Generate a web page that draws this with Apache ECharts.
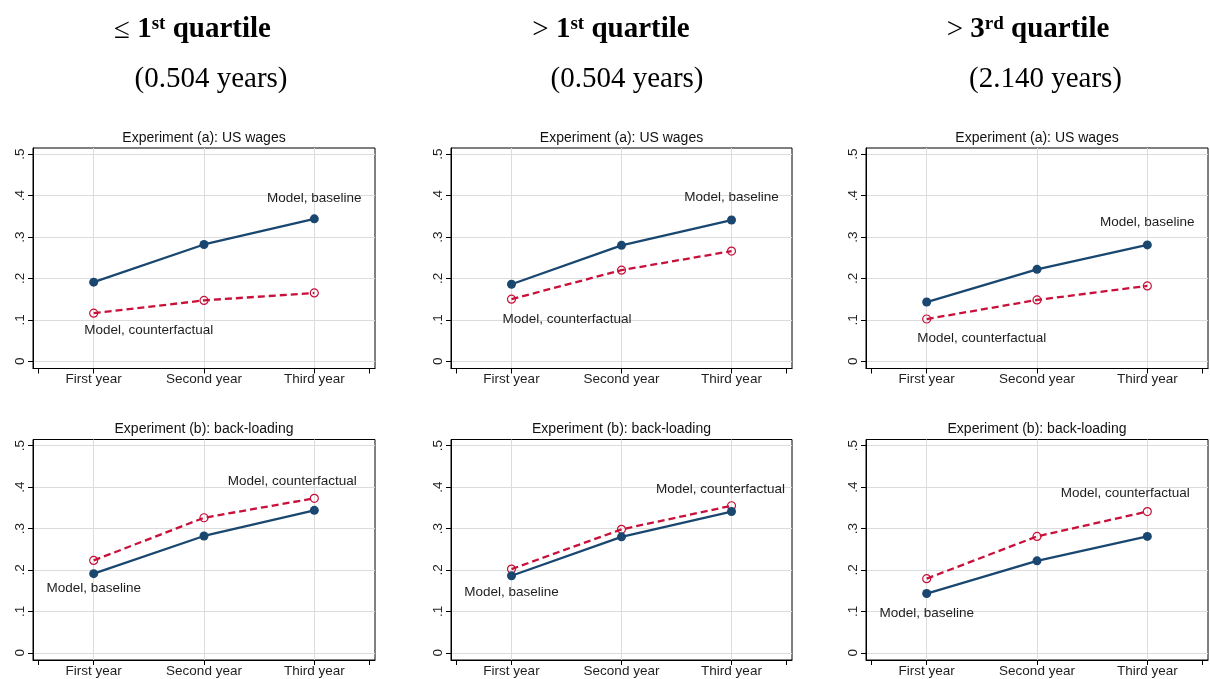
<!DOCTYPE html>
<html>
<head>
<meta charset="utf-8">
<script src="https://cdn.jsdelivr.net/npm/echarts/dist/echarts.min.js"></script>
<style>
  html, body { margin: 0; padding: 0; background: #fff; }
  #chart { width: 1210px; height: 679px; }
</style>
</head>
<body>
<div id="chart"></div>
<script>
// Year categories on the x axis (placed at x = 1, 2, 3)
const categories = ['First year', 'Second year', 'Third year'];
// Y axis ticks and their labels
const yTicks = [0, 0.1, 0.2, 0.3, 0.4, 0.5];
const yTickLabels = ['0', '.1', '.2', '.3', '.4', '.5'];

// Column headers
const headerSigns = ['≤', '>', '>'];
const headerOrdinals = ['1', '1', '3'];
const headerSuffixes = ['st', 'st', 'rd'];
const headerYears = ['0.504', '0.504', '2.140'];

// Row titles
const rowTitles = ['Experiment (a): US wages', 'Experiment (b): back-loading'];
const seriesNames = ['Model, baseline', 'Model, counterfactual'];

// Baseline model, one array per column
const baseQ1 = [0.191, 0.282, 0.344];
const baseGtQ1 = [0.186, 0.280, 0.341];
const baseGtQ3 = [0.143, 0.222, 0.281];

// Counterfactual, experiment (a): US wages
const cfWagesQ1 = [0.116, 0.147, 0.165];
const cfWagesGtQ1 = [0.150, 0.220, 0.266];
const cfWagesGtQ3 = [0.102, 0.148, 0.182];

// Counterfactual, experiment (b): back-loading
const cfBackQ1 = [0.223, 0.326, 0.373];
const cfBackGtQ1 = [0.202, 0.298, 0.355];
const cfBackGtQ3 = [0.179, 0.281, 0.341];

const NAVY = '#1a476f';
const RED = '#c8103a';
const SANS = '"Liberation Sans", Arial, sans-serif';
const SERIF = '"Liberation Serif", "Times New Roman", serif';

// Plot boxes: column left edges/widths, row top edges
const colLeft = [33, 451, 866];
const colWidth = [342, 341, 342];
const rowTop = [148, 439.5];
const boxHeight = 220.5;

// Panel layout: which column/row, data, and where each series name sits
const panels = [
  { col: 0, row: 0, base: baseQ1, cf: cfWagesQ1, baseLab: { i: 2, off: [0, -21] }, cfLab: { i: 0, off: [55, 17] } },
  { col: 1, row: 0, base: baseGtQ1, cf: cfWagesGtQ1, baseLab: { i: 2, off: [0, -22.5] }, cfLab: { i: 0, off: [55.5, 20] } },
  { col: 2, row: 0, base: baseGtQ3, cf: cfWagesGtQ3, baseLab: { i: 2, off: [0, -22.4] }, cfLab: { i: 0, off: [55, 19.3] } },
  { col: 0, row: 1, base: baseQ1, cf: cfBackQ1, baseLab: { i: 0, off: [0, 15] }, cfLab: { i: 2, off: [-22, -17.3] } },
  { col: 1, row: 1, base: baseGtQ1, cf: cfBackGtQ1, baseLab: { i: 0, off: [0, 16.7] }, cfLab: { i: 2, off: [-11, -16.4] } },
  { col: 2, row: 1, base: baseGtQ3, cf: cfBackGtQ3, baseLab: { i: 0, off: [0, 19.7] }, cfLab: { i: 2, off: [-22, -18.4] } }
];

const labelText = { fontFamily: SANS, fontSize: 13.5, color: '#1e1e1e' };

function pointData(values, name, lab) {
  return values.map((v, i) => {
    const item = { value: [i + 1, v] };
    if (i === lab.i) {
      item.label = Object.assign({
        show: true, position: 'inside', offset: lab.off,
        formatter: name, align: 'center', verticalAlign: 'middle'
      }, labelText);
    }
    return item;
  });
}

const grids = [], xAxes = [], yAxes = [], series = [], graphics = [];

panels.forEach((p, k) => {
  grids.push({
    left: colLeft[p.col], top: rowTop[p.row], width: colWidth[p.col], height: boxHeight,
    show: true, borderColor: '#000', borderWidth: 1, backgroundColor: '#fff'
  });
  xAxes.push({
    gridIndex: k, type: 'value', min: 0.45, max: 3.55, z: 6,
    axisLine: { show: true, onZero: false, lineStyle: { color: '#000', width: 1 } },
    axisTick: { show: true, customValues: [0.5, 1, 2, 3, 3.5], length: 5, lineStyle: { color: '#000' } },
    axisLabel: Object.assign({
      customValues: [1, 2, 3], margin: 4,
      formatter: v => categories[Math.round(v) - 1] || ''
    }, labelText),
    splitLine: { show: false }
  });
  yAxes.push({
    gridIndex: k, type: 'value', min: -0.0175, max: 0.515, z: 6,
    axisLine: { show: true, onZero: false, lineStyle: { color: '#000', width: 1 } },
    axisTick: { show: true, customValues: yTicks, length: 5, lineStyle: { color: '#000' } },
    axisLabel: Object.assign({
      customValues: yTicks, rotate: 90, margin: 6,
      formatter: v => yTickLabels[yTicks.findIndex(t => Math.abs(t - v) < 1e-9)] || ''
    }, labelText),
    splitLine: { show: false }
  });
  // light grid lines at the categories and at each y tick, kept beneath the data
  series.push({
    type: 'line', xAxisIndex: k, yAxisIndex: k, data: [], z: 1, silent: true,
    markLine: {
      z: 1, silent: true, animation: false, symbol: ['none', 'none'], label: { show: false },
      emphasis: { disabled: true },
      lineStyle: { color: '#dcdcdc', width: 1, type: 'solid' },
      data: [1, 2, 3].map(x => ({ xAxis: x })).concat(yTicks.map(y => ({ yAxis: y })))
    }
  });
  series.push({
    name: seriesNames[1], type: 'line', xAxisIndex: k, yAxisIndex: k, z: 3,
    data: pointData(p.cf, seriesNames[1], p.cfLab),
    symbol: 'circle', symbolSize: 8,
    itemStyle: { color: 'rgba(255,255,255,0)', borderColor: RED, borderWidth: 1.2 },
    lineStyle: { color: RED, width: 2.3, type: [7, 4] },
    label: { show: false }, emphasis: { disabled: true }
  });
  series.push({
    name: seriesNames[0], type: 'line', xAxisIndex: k, yAxisIndex: k, z: 4,
    data: pointData(p.base, seriesNames[0], p.baseLab),
    symbol: 'circle', symbolSize: 9,
    itemStyle: { color: NAVY },
    lineStyle: { color: NAVY, width: 2.3 },
    label: { show: false }, emphasis: { disabled: true }
  });
  // row title above each box
  graphics.push({
    type: 'text', x: colLeft[p.col] + colWidth[p.col] / 2, y: rowTop[p.row] - 10,
    style: { text: rowTitles[p.row], font: '14px ' + SANS, fill: '#111', align: 'center', verticalAlign: 'middle' }
  });
});

// Column headers
const headerCenters1 = [192.5, 611, 1028];
const headerCenters2 = [211, 627, 1045.5];
for (let c = 0; c < 3; c++) {
  graphics.push({
    type: 'text', x: headerCenters1[c], y: 30,
    style: {
      text: '{m|' + headerSigns[c] + ' }{b|' + headerOrdinals[c] + '}{s|' + headerSuffixes[c] + '}{b| quartile}',
      align: 'center', verticalAlign: 'middle', fill: '#000',
      rich: {
        m: { fontFamily: SERIF, fontSize: 29, fontWeight: 'normal', lineHeight: 31, fill: '#000' },
        b: { fontFamily: SERIF, fontSize: 29, fontWeight: 'bold', lineHeight: 31, fill: '#000' },
        s: { fontFamily: SERIF, fontSize: 19, fontWeight: 'bold', lineHeight: 19, verticalAlign: 'top', fill: '#000' }
      }
    }
  });
  graphics.push({
    type: 'text', x: headerCenters2[c], y: 79,
    style: { text: '(' + headerYears[c] + ' years)', font: '29px ' + SERIF, fill: '#000', align: 'center', verticalAlign: 'middle' }
  });
}

const chart = echarts.init(document.getElementById('chart'), null, { renderer: 'canvas' });
chart.setOption({
  animation: false,
  backgroundColor: '#fff',
  grid: grids,
  xAxis: xAxes,
  yAxis: yAxes,
  series: series,
  graphic: graphics
});
</script>
</body>
</html>
